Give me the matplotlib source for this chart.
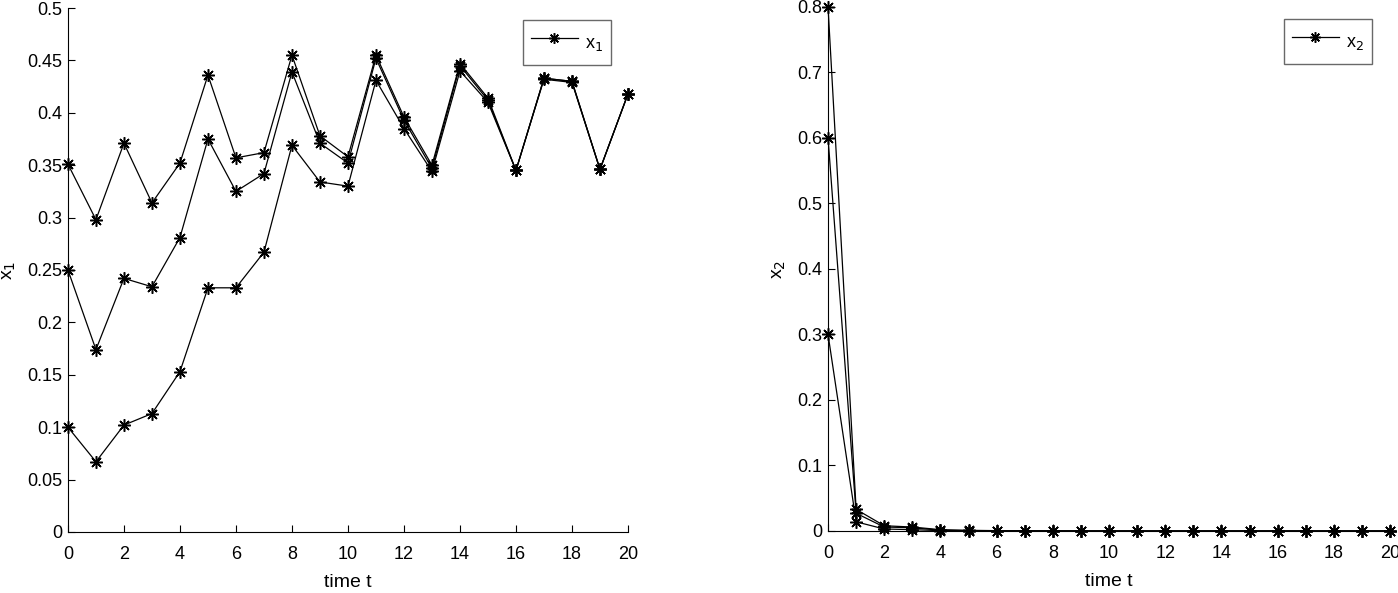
import matplotlib.pyplot as plt

plt.rcParams['font.family'] = ['Liberation Sans', 'DejaVu Sans']
plt.rcParams['font.size'] = 13

t = list(range(21))

# x1 trajectories (three initial conditions)
x1_a = [0.351, 0.298, 0.371, 0.314, 0.352, 0.436, 0.357, 0.362, 0.455, 0.378, 0.358,
        0.455, 0.396, 0.350, 0.447, 0.414, 0.345, 0.433, 0.430, 0.346, 0.418]
x1_b = [0.250, 0.174, 0.242, 0.234, 0.281, 0.375, 0.325, 0.342, 0.439, 0.371, 0.352,
        0.452, 0.393, 0.347, 0.445, 0.412, 0.345, 0.433, 0.430, 0.346, 0.418]
x1_c = [0.100, 0.067, 0.102, 0.113, 0.153, 0.233, 0.233, 0.267, 0.369, 0.334, 0.330,
        0.431, 0.385, 0.344, 0.440, 0.410, 0.345, 0.432, 0.429, 0.346, 0.418]

# x2 trajectories
x2_a = [0.800, 0.033, 0.008, 0.006, 0.002, 0.001, 0.0005, 0.0003, 0.0002, 0.0001, 0.0,
        0.0, 0.0, 0.0, 0.0, 0.0, 0.0, 0.0, 0.0, 0.0, 0.0]
x2_b = [0.600, 0.027, 0.006, 0.005, 0.001, 0.0005, 0.0003, 0.0002, 0.0001, 0.0, 0.0,
        0.0, 0.0, 0.0, 0.0, 0.0, 0.0, 0.0, 0.0, 0.0, 0.0]
x2_c = [0.300, 0.014, 0.003, 0.002, 0.0005, 0.0002, 0.0001, 0.0, 0.0, 0.0, 0.0,
        0.0, 0.0, 0.0, 0.0, 0.0, 0.0, 0.0, 0.0, 0.0, 0.0]

y1_ticks = [0, 0.05, 0.1, 0.15, 0.2, 0.25, 0.3, 0.35, 0.4, 0.45, 0.5]
y1_labels = ['0', '0.05', '0.1', '0.15', '0.2', '0.25', '0.3', '0.35', '0.4', '0.45', '0.5']
y2_ticks = [0, 0.1, 0.2, 0.3, 0.4, 0.5, 0.6, 0.7, 0.8]
y2_labels = ['0', '0.1', '0.2', '0.3', '0.4', '0.5', '0.6', '0.7', '0.8']
x_ticks = list(range(0, 21, 2))

fig = plt.figure(figsize=(13.98, 5.93), dpi=100)
ax1 = fig.add_axes([0.0486, 0.1029, 0.4006, 0.8836])
ax2 = fig.add_axes([0.5923, 0.1046, 0.4020, 0.8836])

# MATLAB-like asterisk: 8 spokes
style = dict(color='black', marker=(8, 2, 0), markersize=9, markeredgewidth=1.1,
             linewidth=0.9)


def format_axis(ax, yticks, ylabels, ymax, ylab, leglab, anchor):
    ax.set_xlim(0, 20)
    ax.set_ylim(0, ymax)
    ax.set_xticks(x_ticks)
    ax.set_yticks(yticks)
    ax.set_yticklabels(ylabels)
    ax.spines['top'].set_visible(False)
    ax.spines['right'].set_visible(False)
    ax.tick_params(direction='in', length=5, labelsize=13)
    ax.tick_params(axis='x', pad=10)
    ax.tick_params(axis='y', pad=4)
    ax.set_xlabel('time t', fontsize=14, labelpad=8)
    ax.set_ylabel(ylab, fontsize=14, labelpad=7)
    leg = ax.legend([leglab], loc='upper right', bbox_to_anchor=anchor,
                    borderaxespad=0, fancybox=False, edgecolor='#444444',
                    fontsize=13, handlelength=2.6, handletextpad=0.4,
                    borderpad=0.45, handleheight=2.1, markerscale=0.85)
    leg.get_frame().set_linewidth(1.0)


ax1.plot(t, x1_a, **style)
ax1.plot(t, x1_b, **style)
ax1.plot(t, x1_c, **style)
format_axis(ax1, y1_ticks, y1_labels, 0.5, r'x$_1$', r'x$_1$', (0.970, 0.977))

ax2.plot(t, x2_a, **style)
ax2.plot(t, x2_b, **style)
ax2.plot(t, x2_c, **style)
format_axis(ax2, y2_ticks, y2_labels, 0.8, r'x$_2$', r'x$_2$', (0.968, 0.977))

for ax in (ax1, ax2):
    for line in ax.lines:
        line.set_clip_on(False)

fig.savefig('out.png', dpi=100)
